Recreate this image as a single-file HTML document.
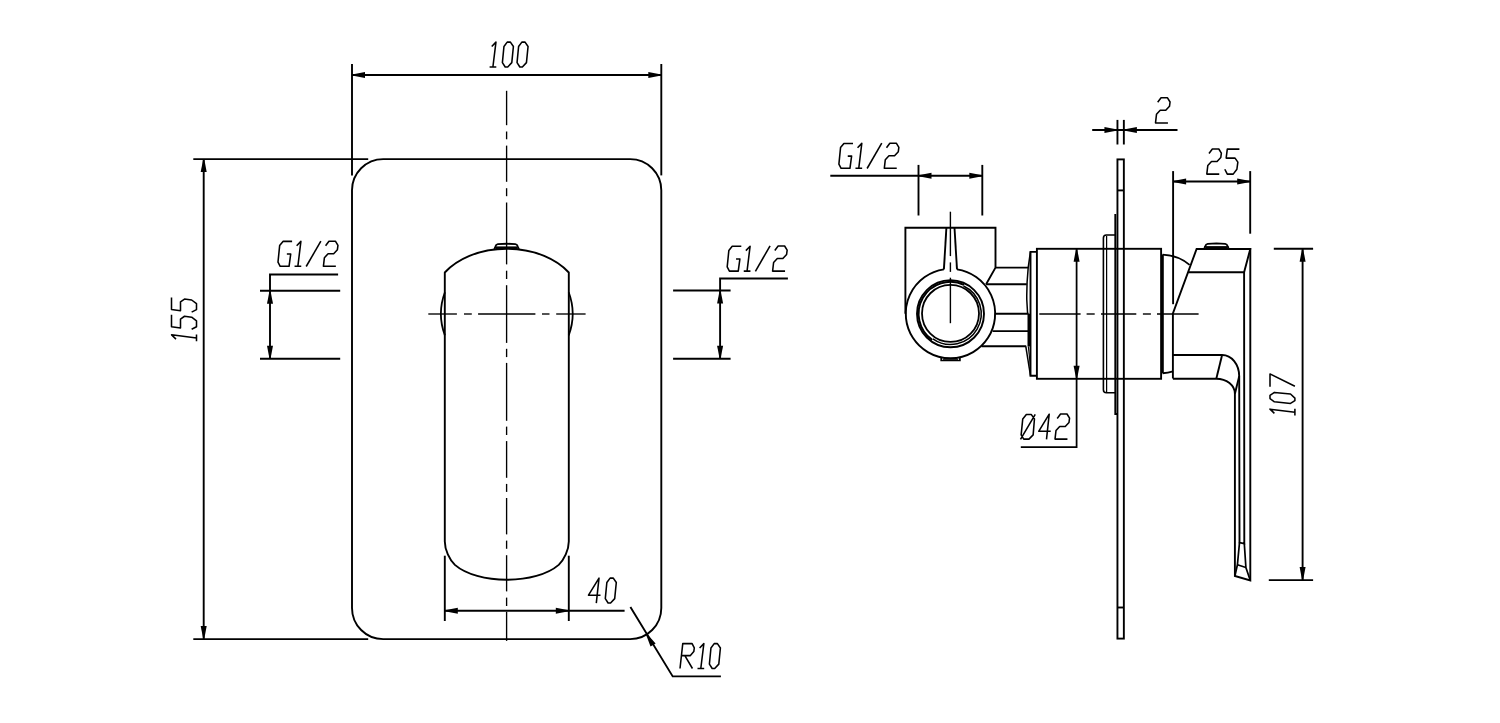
<!DOCTYPE html>
<html lang="en">
<head>
<meta charset="utf-8">
<title>Concealed shower mixer – dimension drawing</title>
<style>
html,body{margin:0;padding:0;background:#fff;}
body{width:1500px;height:723px;overflow:hidden;font-family:"Liberation Sans",sans-serif;}
svg{display:block;}
svg .ah{fill:#000;stroke:none;}
</style>
</head>
<body>
<svg width="1500" height="723" viewBox="0 0 1500 723" role="img" aria-label="Dimension drawing: front view 100 x 155 plate with 40 wide handle, R10 corners, G1/2 connections; side view with 2, 25, 107 and diameter 42 dimensions">
<rect x="0" y="0" width="1500" height="723" fill="#fff"/>
<g fill="none" stroke="#000" stroke-width="1.9" stroke-linecap="butt" stroke-linejoin="miter">
<g id="front-view">
<rect x="352" y="159.1" width="309.3" height="480.0" rx="31.2" ry="31.2"/>
<line x1="352" y1="64" x2="352" y2="175.4"/>
<line x1="661.3" y1="64" x2="661.3" y2="175.4"/>
<line x1="352" y1="75.0" x2="661.3" y2="75.0"/>
<polygon class="ah" points="352.00,74.50 365.00,72.00 365.00,78.00 352.00,75.50"/>
<polygon class="ah" points="661.30,75.50 648.30,78.00 648.30,72.00 661.30,74.50"/>
<line x1="193.3" y1="159.1" x2="368.2" y2="159.1"/>
<line x1="193.3" y1="639.1" x2="368.2" y2="639.1"/>
<line x1="203.7" y1="159.1" x2="203.7" y2="639.1"/>
<polygon class="ah" points="204.20,159.10 206.70,172.10 200.70,172.10 203.20,159.10"/>
<polygon class="ah" points="203.20,639.10 200.70,626.10 206.70,626.10 204.20,639.10"/>
<line x1="506.6" y1="90.8" x2="506.6" y2="125.2" stroke-width="1.35"/>
<line x1="506.6" y1="131.5" x2="506.6" y2="139.3" stroke-width="1.35"/>
<line x1="506.6" y1="145.6" x2="506.6" y2="181.8" stroke-width="1.35"/>
<line x1="506.6" y1="188.2" x2="506.6" y2="196.2" stroke-width="1.35"/>
<line x1="506.6" y1="202.5" x2="506.6" y2="264.4" stroke-width="1.35"/>
<line x1="506.6" y1="270.7" x2="506.6" y2="279.0" stroke-width="1.35"/>
<line x1="506.6" y1="285.2" x2="506.6" y2="342.9" stroke-width="1.35"/>
<line x1="506.6" y1="348.8" x2="506.6" y2="357.1" stroke-width="1.35"/>
<line x1="506.6" y1="362.9" x2="506.6" y2="420.8" stroke-width="1.35"/>
<line x1="506.6" y1="426.6" x2="506.6" y2="435.0" stroke-width="1.35"/>
<line x1="506.6" y1="441.1" x2="506.6" y2="477.8" stroke-width="1.35"/>
<line x1="506.6" y1="483.9" x2="506.6" y2="491.9" stroke-width="1.35"/>
<line x1="506.6" y1="498.0" x2="506.6" y2="534.4" stroke-width="1.35"/>
<line x1="506.6" y1="540.6" x2="506.6" y2="548.8" stroke-width="1.35"/>
<line x1="506.6" y1="555.2" x2="506.6" y2="591.4" stroke-width="1.35"/>
<line x1="506.6" y1="597.6" x2="506.6" y2="606.0" stroke-width="1.35"/>
<line x1="506.6" y1="611.8" x2="506.6" y2="640.9" stroke-width="1.35"/>
<line x1="428.3" y1="314" x2="456.9" y2="314" stroke-width="1.35"/>
<line x1="464" y1="314" x2="471.8" y2="314" stroke-width="1.35"/>
<line x1="478.1" y1="314" x2="535.4" y2="314" stroke-width="1.35"/>
<line x1="542" y1="314" x2="549.5" y2="314" stroke-width="1.35"/>
<line x1="556.2" y1="314" x2="585.6" y2="314" stroke-width="1.35"/>
<path d="M444.8,541.6 L444.8,272.5 A74,52.3 0 0 1 568.8,272.5 L568.8,541.6 C568.8,550 564.1,559.5 558.7,564.9 C547.6,574.5 527.6,579.8 506.8,579.8 C486,579.8 466,574.5 454.9,564.9 C449.5,559.5 444.8,550 444.8,541.6 Z"/>
<path d="M494.40000000000003,249.3 L495.3,246.70000000000002 Q496.00000000000006,244.3 497.8,244.15 L506.6,243.70000000000002 L515.4000000000001,244.15 Q517.2,244.3 517.9000000000001,246.70000000000002 L518.8000000000001,249.3" stroke-width="1.9"/>
<line x1="495.6" y1="247.70000000000002" x2="517.6" y2="247.70000000000002" stroke-width="2.6"/>
<path d="M444.9,292.3 A61.5,61.5 0 0 0 444.9,335.4" stroke-width="1.8"/>
<path d="M568.7,292.3 A61.5,61.5 0 0 1 568.7,335.4" stroke-width="1.8"/>
<line x1="444.8" y1="555.7" x2="444.8" y2="621"/>
<line x1="568.8" y1="555.7" x2="568.8" y2="621"/>
<line x1="444.8" y1="610.8" x2="624.6" y2="610.8"/>
<polygon class="ah" points="444.80,610.30 457.80,607.80 457.80,613.80 444.80,611.30"/>
<polygon class="ah" points="568.80,611.30 555.80,613.80 555.80,607.80 568.80,610.30"/>
<path d="M338.1,274.5 L270,274.5 L270,358.8"/>
<line x1="260" y1="290.7" x2="340.2" y2="290.7"/>
<line x1="260" y1="358.8" x2="340.2" y2="358.8"/>
<polygon class="ah" points="270.50,290.70 273.00,303.70 267.00,303.70 269.50,290.70"/>
<polygon class="ah" points="269.50,358.80 267.00,345.80 273.00,345.80 270.50,358.80"/>
<path d="M787.9,278.5 L720.1,278.5 L720.1,358.8"/>
<line x1="673.1" y1="290.5" x2="730.6" y2="290.5"/>
<line x1="673.1" y1="358.8" x2="730.6" y2="358.8"/>
<polygon class="ah" points="720.60,290.50 723.10,303.50 717.10,303.50 719.60,290.50"/>
<polygon class="ah" points="719.60,358.80 717.10,345.80 723.10,345.80 720.60,358.80"/>
<path d="M630.4,607 L672.7,676.4 L720.9,676.4"/>
<polygon class="ah" points="646.63,633.44 655.63,643.41 650.51,646.53 645.77,633.96"/>
</g>
<g id="side-view">
<line x1="830.3" y1="175.7" x2="982.3" y2="175.7"/>
<line x1="918.5" y1="164.9" x2="918.5" y2="215.5"/>
<line x1="982.3" y1="164.9" x2="982.3" y2="215.5"/>
<polygon class="ah" points="918.50,175.20 931.50,172.70 931.50,178.70 918.50,176.20"/>
<polygon class="ah" points="982.30,176.20 969.30,178.70 969.30,172.70 982.30,175.20"/>
<path d="M905.4,313.8 L905.4,227.7 L995.5,227.7 L995.5,267.6 L986.1,284.3"/>
<path d="M946.4,227.7 L943.9,269.4"/>
<path d="M954.5,227.7 L957,269.4"/>
<path d="M957,269.4 A44.7,44.7 0 1 1 943.9,269.4"/>
<circle cx="950.5" cy="313.8" r="33.5"/>
<circle cx="950.5" cy="313.4" r="28.5" stroke-width="1.8"/>
<path d="M932.20,339.93 A31.9,31.9 0 0 1 963.98,284.89" stroke-width="2.0"/>
<path d="M963.47,285.98 A30.7,30.7 0 1 1 932.89,338.95" stroke-width="1.5"/>
<path d="M941.2,357.3 L941.2,360.5 L959.9,360.5 L959.9,357.3" stroke-width="1.7"/>
<line x1="943" y1="359.3" x2="958" y2="359.3" stroke-width="1.0"/>
<line x1="950.4" y1="211.7" x2="950.4" y2="256.1" stroke-width="1.4"/>
<line x1="950.4" y1="262.4" x2="950.4" y2="271.9" stroke-width="1.4"/>
<line x1="950.4" y1="277.7" x2="950.4" y2="323.2" stroke-width="1.4"/>
<line x1="995.5" y1="267.6" x2="1028.2" y2="267.6"/>
<line x1="986.1" y1="284.3" x2="1026.8" y2="284.3"/>
<line x1="995.2" y1="313.7" x2="1028.6" y2="313.7"/>
<line x1="992.6" y1="331.1" x2="1028.6" y2="331.1"/>
<line x1="981.5" y1="346.3" x2="1026.2" y2="346.3"/>
<path d="M1030.4,251.9 L1028.2,267.6 Q1026.5,285 1026.8,300 L1027.6,313.7" stroke-width="1.5"/>
<path d="M1028.8,313.7 L1028.8,346.3" stroke-width="2.6"/>
<path d="M1025.8,346.3 L1030.5,375.6" stroke-width="1.5"/>
<path d="M1028.3,346.3 L1030.4,366" stroke-width="1.1"/>
<path d="M1036.9,251.9 L1030.5,251.9 L1030.5,375.7 L1036.9,375.7"/>
<rect x="1036.9" y="248.8" width="124.2" height="130.0"/>
<line x1="1162.6" y1="254.5" x2="1162.6" y2="373.2" stroke-width="2.4"/>
<path d="M1162.6,254.6 Q1179,255.6 1189.6,264.9"/>
<path d="M1162.6,373.2 Q1168,373 1173,371.3"/>
<line x1="1039.3" y1="314.0" x2="1080.6" y2="314.0" stroke-width="1.4"/>
<line x1="1086.6" y1="314.0" x2="1094.7" y2="314.0" stroke-width="1.4"/>
<line x1="1101" y1="314.0" x2="1136.3" y2="314.0" stroke-width="1.4"/>
<line x1="1142.9" y1="314.0" x2="1150.9" y2="314.0" stroke-width="1.4"/>
<line x1="1157" y1="314.0" x2="1198.6" y2="314.0" stroke-width="1.4"/>
<path d="M1076.6,248.8 L1076.6,447.2 L1020.8,447.2" stroke-width="1.75"/>
<polygon class="ah" points="1077.10,248.80 1079.60,261.80 1073.60,261.80 1076.10,248.80"/>
<polygon class="ah" points="1076.10,378.80 1073.60,365.80 1079.60,365.80 1077.10,378.80"/>
<path d="M1115.3,235 L1106.4,235 Q1103.4,235 1103.4,238 L1103.4,389.8 Q1103.4,392.8 1106.4,392.8 L1115.3,392.8" stroke-width="1.6"/>
<path d="M1106.6,236 L1106.6,392" stroke-width="1.25"/>
<path d="M1115.3,213.9 L1115.3,414 L1117.5,414" stroke-width="1.9"/>
<rect x="1117.45" y="159.4" width="6.4" height="479.2"/>
<line x1="1117.45" y1="190.4" x2="1123.85" y2="190.4"/>
<line x1="1117.45" y1="607.5" x2="1123.85" y2="607.5"/>
<line x1="1117.45" y1="119.9" x2="1117.45" y2="144.5"/>
<line x1="1123.85" y1="119.9" x2="1123.85" y2="144.5"/>
<line x1="1092.2" y1="130" x2="1177.5" y2="130"/>
<polygon class="ah" points="1117.45,130.50 1104.45,133.00 1104.45,127.00 1117.45,129.50"/>
<polygon class="ah" points="1123.85,129.50 1136.85,127.00 1136.85,133.00 1123.85,130.50"/>
<line x1="1173.1" y1="171.1" x2="1173.1" y2="304.2"/>
<line x1="1250.2" y1="171.1" x2="1250.2" y2="233.7"/>
<line x1="1173.1" y1="181.5" x2="1250.2" y2="181.5"/>
<polygon class="ah" points="1173.10,181.00 1186.10,178.50 1186.10,184.50 1173.10,182.00"/>
<polygon class="ah" points="1250.20,182.00 1237.20,184.50 1237.20,178.50 1250.20,181.00"/>
<path d="M1172.9,378.6 L1172.9,313.4 L1196.6,249 L1250.3,249 L1244.1,272.3 L1188.3,272.3"/>
<path d="M1250.3,249 L1250.3,580.4 L1234.9,576 L1234.9,393.7 A18.6,15 0 0 0 1216.3,378.7 L1172.9,378.7"/>
<path d="M1244.1,272.3 L1244.3,543.6 L1239.5,542.6 L1239.2,376.3 A17,21.3 0 0 0 1222.1,355 L1172.9,355"/>
<path d="M1222.1,355 L1216.3,378.7"/>
<path d="M1239.2,376.3 L1234.9,393.7"/>
<path d="M1239.5,542.6 L1237.4,564.8 L1234.9,576" stroke-width="1.7"/>
<path d="M1244.3,543.6 L1245.9,567.5 L1250.3,580.4" stroke-width="1.7"/>
<path d="M1237.4,564.8 L1245.9,567.5" stroke-width="1.7"/>
<path d="M1204.25,249.0 L1205.15,246.4 Q1205.85,244.0 1207.65,243.85 L1216.45,243.4 L1225.25,243.85 Q1227.0500000000002,244.0 1227.75,246.4 L1228.65,249.0" stroke-width="1.9"/>
<line x1="1205.45" y1="247.4" x2="1227.45" y2="247.4" stroke-width="2.6"/>
<line x1="1273.8" y1="248.8" x2="1313.1" y2="248.8"/>
<line x1="1268.8" y1="580.1" x2="1313.1" y2="580.1"/>
<line x1="1302.6" y1="248.8" x2="1302.6" y2="580.1"/>
<polygon class="ah" points="1303.10,248.80 1305.60,261.80 1299.60,261.80 1302.10,248.80"/>
<polygon class="ah" points="1302.10,580.10 1299.60,567.10 1305.60,567.10 1303.10,580.10"/>
</g>
<g id="labels">
<g class="t" stroke-width="1.55" stroke-linejoin="round" aria-label="100"><title>100</title>
<path d="M2.3,-20.5 L6.55,-24.9 L3.5,0 M0.2,0 L6.9,0" transform="translate(489.4,67.0)"/>
<path d="M4.8,-24.9 L8.0,-24.9 L11.0,-20.5 L9.4,-4.4 L5.3,0 L2.8,0 L0,-4.4 L1.55,-20.5 Z" transform="translate(502.4,67.0)"/>
<path d="M4.8,-24.9 L8.0,-24.9 L11.0,-20.5 L9.4,-4.4 L5.3,0 L2.8,0 L0,-4.4 L1.55,-20.5 Z" transform="translate(517.05,67.0)"/>
</g>
<g class="t" stroke-width="1.55" stroke-linejoin="round" aria-label="155"><title>155</title>
<path d="M2.3,-20.5 L6.55,-24.9 L3.5,0 M0.2,0 L6.9,0" transform="translate(196.5,341.4) rotate(-90)"/>
<path d="M14.6,-25 L2.5,-25 L1.35,-16 L10.25,-16 L13.05,-12 L12.1,-4.85 L8.4,0 L2.5,0 L0,-4.85" transform="translate(196.5,329.3) rotate(-90)"/>
<path d="M14.6,-25 L2.5,-25 L1.35,-16 L10.25,-16 L13.05,-12 L12.1,-4.85 L8.4,0 L2.5,0 L0,-4.85" transform="translate(196.5,312.1) rotate(-90)"/>
</g>
<g class="t" stroke-width="1.55" stroke-linejoin="round" aria-label="G1/2"><title>G1/2</title>
<path d="M14.1,-24.9 L5.0,-24.9 L1.65,-20.7 L0,-4.15 L2.2,0 L11.05,0 L12.7,-12.2 L8.85,-12.2" transform="translate(278.0,266.3)"/>
<path d="M2.3,-20.5 L6.55,-24.9 L3.5,0 M0.2,0 L6.9,0" transform="translate(294.35,266.3)"/>
<path d="M14.66,-25.2 L0,0.2" transform="translate(306.2,266.3)"/>
<path d="M2.2,-20.6 L5.55,-25.1 L12.0,-25.1 L14.55,-20.9 L14.0,-16.6 L10.25,-12.6 L4.7,-12.6 L1.0,-8.6 L0,0 L12.45,0" transform="translate(323.4,266.3)"/>
</g>
<g class="t" stroke-width="1.55" stroke-linejoin="round" aria-label="G1/2"><title>G1/2</title>
<path d="M14.1,-24.9 L5.0,-24.9 L1.65,-20.7 L0,-4.15 L2.2,0 L11.05,0 L12.7,-12.2 L8.85,-12.2" transform="translate(727.2,271.1)"/>
<path d="M2.3,-20.5 L6.55,-24.9 L3.5,0 M0.2,0 L6.9,0" transform="translate(743.55,271.1)"/>
<path d="M14.66,-25.2 L0,0.2" transform="translate(755.4,271.1)"/>
<path d="M2.2,-20.6 L5.55,-25.1 L12.0,-25.1 L14.55,-20.9 L14.0,-16.6 L10.25,-12.6 L4.7,-12.6 L1.0,-8.6 L0,0 L12.45,0" transform="translate(772.6,271.1)"/>
</g>
<g class="t" stroke-width="1.55" stroke-linejoin="round" aria-label="40"><title>40</title>
<path d="M12.0,-7.8 L0,-7.8 L10.5,-24.9 L7.8,0.2" transform="translate(588.5,603.0)"/>
<path d="M4.8,-24.9 L8.0,-24.9 L11.0,-20.5 L9.4,-4.4 L5.3,0 L2.8,0 L0,-4.4 L1.55,-20.5 Z" transform="translate(605.3,603.0)"/>
</g>
<g class="t" stroke-width="1.55" stroke-linejoin="round" aria-label="R10"><title>R10</title>
<path d="M0,0 L2.76,-24.9 L12.1,-24.9 L14.3,-20.7 L13.8,-16.9 L10.4,-12.9 L2.07,-12.9 M4.85,-12.9 L12.45,0" transform="translate(680.0,668.5)"/>
<path d="M2.3,-20.5 L6.55,-24.9 L3.5,0 M0.2,0 L6.9,0" transform="translate(697.3,668.5)"/>
<path d="M4.8,-24.9 L8.0,-24.9 L11.0,-20.5 L9.4,-4.4 L5.3,0 L2.8,0 L0,-4.4 L1.55,-20.5 Z" transform="translate(709.4,668.5)"/>
</g>
<g class="t" stroke-width="1.55" stroke-linejoin="round" aria-label="G1/2"><title>G1/2</title>
<path d="M14.1,-24.9 L5.0,-24.9 L1.65,-20.7 L0,-4.15 L2.2,0 L11.05,0 L12.7,-12.2 L8.85,-12.2" transform="translate(838.9,168.3)"/>
<path d="M2.3,-20.5 L6.55,-24.9 L3.5,0 M0.2,0 L6.9,0" transform="translate(855.25,168.3)"/>
<path d="M14.66,-25.2 L0,0.2" transform="translate(867.1,168.3)"/>
<path d="M2.2,-20.6 L5.55,-25.1 L12.0,-25.1 L14.55,-20.9 L14.0,-16.6 L10.25,-12.6 L4.7,-12.6 L1.0,-8.6 L0,0 L12.45,0" transform="translate(884.3,168.3)"/>
</g>
<g class="t" stroke-width="1.55" stroke-linejoin="round" aria-label="2"><title>2</title>
<path d="M2.2,-20.6 L5.55,-25.1 L12.0,-25.1 L14.55,-20.9 L14.0,-16.6 L10.25,-12.6 L4.7,-12.6 L1.0,-8.6 L0,0 L12.45,0" transform="translate(1155.5,122.9)"/>
</g>
<g class="t" stroke-width="1.55" stroke-linejoin="round" aria-label="25"><title>25</title>
<path d="M2.2,-20.6 L5.55,-25.1 L12.0,-25.1 L14.55,-20.9 L14.0,-16.6 L10.25,-12.6 L4.7,-12.6 L1.0,-8.6 L0,0 L12.45,0" transform="translate(1206.8,174.1)"/>
<path d="M14.6,-25 L2.5,-25 L1.35,-16 L10.25,-16 L13.05,-12 L12.1,-4.85 L8.4,0 L2.5,0 L0,-4.85" transform="translate(1224.8,174.1)"/>
</g>
<g class="t" stroke-width="1.55" stroke-linejoin="round" aria-label="Ø42"><title>Ø42</title>
<path d="M5.85,-24.7 L10.7,-24.7 L13.95,-20.15 L12.65,-4.2 L8.45,0 L3.25,0 L0.65,-4.2 L2.25,-20.15 Z M0,0.3 L14.75,-24.7" transform="translate(1020.5,439.1)"/>
<path d="M12.0,-7.8 L0,-7.8 L10.5,-24.9 L7.8,0.2" transform="translate(1038.7,439.1)"/>
<path d="M2.2,-20.6 L5.55,-25.1 L12.0,-25.1 L14.55,-20.9 L14.0,-16.6 L10.25,-12.6 L4.7,-12.6 L1.0,-8.6 L0,0 L12.45,0" transform="translate(1055.0,439.1)"/>
</g>
<g class="t" stroke-width="1.55" stroke-linejoin="round" aria-label="107"><title>107</title>
<path d="M2.3,-20.5 L6.55,-24.9 L3.5,0 M0.2,0 L6.9,0" transform="translate(1294.9,415.7) rotate(-90)"/>
<path d="M4.8,-24.9 L8.0,-24.9 L11.0,-20.5 L9.4,-4.4 L5.3,0 L2.8,0 L0,-4.4 L1.55,-20.5 Z" transform="translate(1294.9,403.4) rotate(-90)"/>
<path d="M0,-24.9 L12.8,-24.9 L0.6,0" transform="translate(1294.9,386.8) rotate(-90)"/>
</g>
</g>
</g>
</svg>
</body>
</html>
